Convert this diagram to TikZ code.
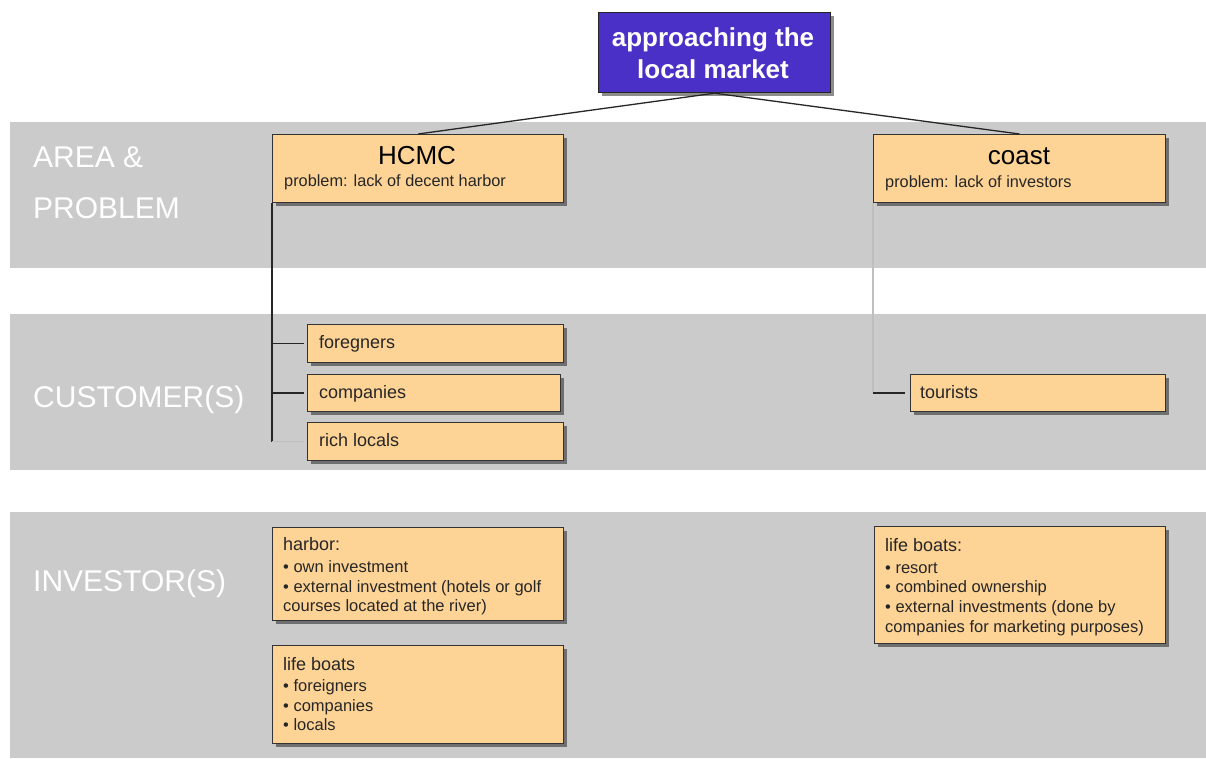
\documentclass[tikz,border=0pt]{standalone}
\usepackage{fontspec}
\setmainfont{Liberation Sans}
\usetikzlibrary{shadows}
\definecolor{band}{RGB}{203,203,203}
\definecolor{boxfill}{RGB}{254,212,150}
\definecolor{topblue}{RGB}{74,48,198}
\newcommand{\fsz}[1]{\fontsize{#1}{#1}\selectfont}
\tikzset{
  box/.style={draw=black!80, line width=1.2pt, fill=boxfill, anchor=north west, inner sep=0pt,
    drop shadow={shadow xshift=3pt, shadow yshift=-3pt, fill=black, opacity=0.45}},
  topbox/.style={draw=black!85, line width=1.2pt, fill=topblue, anchor=north west, inner sep=0pt,
    drop shadow={shadow xshift=3pt, shadow yshift=-3pt, fill=black, opacity=0.45}},
  txt/.style={anchor=base west, inner sep=0pt, text=black!85},
  rowlabel/.style={anchor=base west, inner sep=0pt, text=white, font=\fsz{30}},
  conn/.style={draw=black!85, line width=1.3pt},
  lightconn/.style={draw=black!25, line width=1.3pt},
}
\begin{document}
\begin{tikzpicture}[x=1pt,y=-1pt]
\useasboundingbox (0,0) rectangle (1206,758);
\fill[white] (0,0) rectangle (1206,758);
% bands
\fill[band] (10,122) rectangle (1206,268);
\fill[band] (10,314) rectangle (1206,470);
\fill[band] (10,512) rectangle (1206,758);
% row labels
\node[rowlabel] (lblarea) at (33,167) {AREA \&};
\node[rowlabel] (lblprob) at (33,218) {PROBLEM};
\node[rowlabel] (lblcust) at (33,407) {CUSTOMER(S)};
\node[rowlabel] (lblinv) at (33,591) {INVESTOR(S)};
% top box
\node[topbox, minimum width=232pt, minimum height=80pt] (top) at (598,12) {};
\node[inner sep=0pt, anchor=base, text=white, font=\bfseries\fsz{26}] (toptxt1) at (713,46) {approaching the};
\node[inner sep=0pt, anchor=base, text=white, font=\bfseries\fsz{26}] (toptxt2) at (713,78) {local market};
% area boxes
\node[box, minimum width=291pt, minimum height=68pt] (hcmc) at (272,134) {};
\node[inner sep=0pt, anchor=base, font=\fsz{26}] (hcmct) at (417,164) {HCMC};
\node[txt, font=\fsz{16.3}] (hcmcs) at (284,186) {problem: lack of decent harbor};
\node[box, minimum width=292pt, minimum height=68pt] (coast) at (873,134) {};
\node[inner sep=0pt, anchor=base, font=\fsz{26}] (coastt) at (1019,164) {coast};
\node[txt, font=\fsz{16.3}] (coasts) at (885,187) {problem: lack of investors};
% connectors from top
\draw[conn] (top.south) -- (hcmc.north);
\draw[conn] (top.south) -- (coast.north);
% customer boxes
\node[box, minimum width=256pt, minimum height=38pt] (foreg) at (307,324) {};
\node[txt, font=\fsz{18}] (foregt) at (319,348) {foregners};
\node[box, minimum width=253pt, minimum height=37pt] (comp) at (307,374) {};
\node[txt, font=\fsz{18}] (compt) at (319,398) {companies};
\node[box, minimum width=256pt, minimum height=38pt] (rich) at (307,422) {};
\node[txt, font=\fsz{18}] (richt) at (319,446) {rich locals};
\node[box, minimum width=255pt, minimum height=37pt] (tour) at (910,374) {};
\node[txt, font=\fsz{18}] (tourt) at (920,398) {tourists};
% customer connectors
\coordinate (trunkbot) at (hcmc.south west |- rich.west);
\draw[conn] (hcmc.south west) -- (trunkbot);
\draw[conn] (foreg.west -| hcmc.south west) -- ([xshift=-3pt]foreg.west);
\draw[conn] (comp.west -| hcmc.south west) -- ([xshift=-3pt]comp.west);
\draw[lightconn] (trunkbot) -- ([xshift=-3pt]rich.west);
\coordinate (coastbend) at (coast.south west |- tour.west);
\draw[lightconn] (coast.south west) -- (coastbend);
\draw[conn] (coastbend) -- ([xshift=-5pt]tour.west);
% investor boxes
\node[box, minimum width=291pt, minimum height=93pt] (harb) at (272,527) {};
\node[txt, font=\fsz{18}] (harb1) at (283,550) {harbor:};
\node[txt, font=\fsz{16.5}] (harb2) at (283,572) {• own investment};
\node[txt, font=\fsz{16.5}] (harb3) at (283,592) {• external investment (hotels or golf};
\node[txt, font=\fsz{16.5}] (harb4) at (283,611) {courses located at the river)};
\node[box, minimum width=291pt, minimum height=98pt] (lifel) at (272,645) {};
\node[txt, font=\fsz{18}] (lifel1) at (283,670) {life boats};
\node[txt, font=\fsz{16.5}] (lifel2) at (283,691) {• foreigners};
\node[txt, font=\fsz{16.5}] (lifel3) at (283,711) {• companies};
\node[txt, font=\fsz{16.5}] (lifel4) at (283,730) {• locals};
\node[box, minimum width=291pt, minimum height=117pt] (lifer) at (874,526) {};
\node[txt, font=\fsz{18}] (lifer1) at (885,551) {life boats:};
\node[txt, font=\fsz{16.5}] (lifer2) at (885,573) {• resort};
\node[txt, font=\fsz{16.5}] (lifer3) at (885,592) {• combined ownership};
\node[txt, font=\fsz{16.5}] (lifer4) at (885,612) {• external investments (done by};
\node[txt, font=\fsz{16.5}] (lifer5) at (885,632) {companies for marketing purposes)};
\end{tikzpicture}
\end{document}
